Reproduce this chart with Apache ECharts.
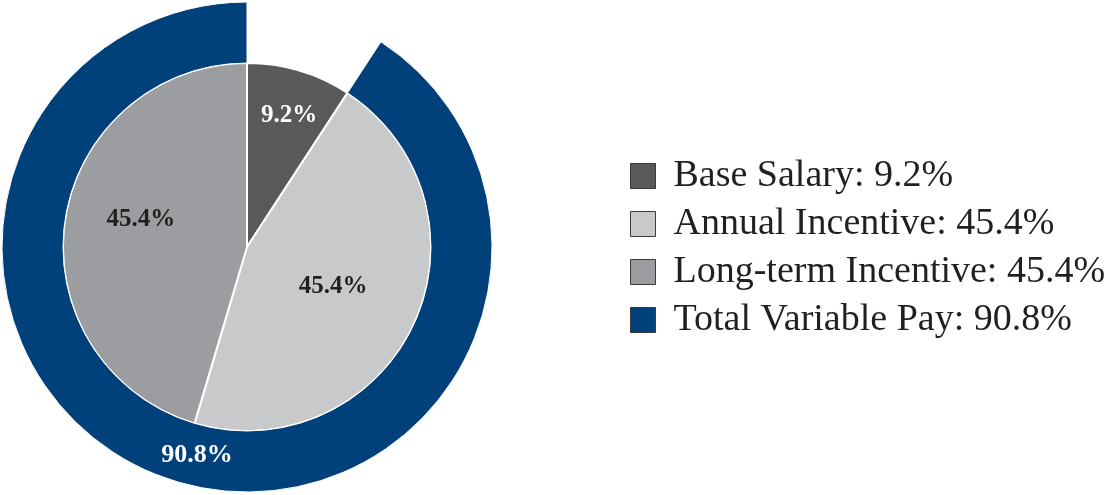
<!DOCTYPE html>
<html>
<head>
<meta charset="utf-8">
<script src="https://cdn.jsdelivr.net/npm/echarts@6/dist/echarts.min.js"></script>
<style>
html,body{margin:0;padding:0;background:#fff;}
#chart{width:1111px;height:495px;}
</style>
</head>
<body>
<div id="chart"></div>
<script>
// Data
var innerNames = ['Base Salary', 'Annual Incentive', 'Long-term Incentive'];
var innerValues = [9.2, 45.4, 45.4];
var outerName = 'Total Variable Pay';
var outerValue = 90.8;
var colors = {
  'Base Salary': '#59595b',
  'Annual Incentive': '#c8c9cb',
  'Long-term Incentive': '#9c9da0',
  'Total Variable Pay': '#00417b'
};

var allValues = {};
innerNames.forEach(function (n, i) { allValues[n] = innerValues[i]; });
allValues[outerName] = outerValue;

var labelColors = ['#ffffff', '#231f20', '#231f20'];
var innerData = innerNames.map(function (n, i) {
  return {
    name: n,
    value: innerValues[i],
    itemStyle: { color: colors[n] },
    label: { color: labelColors[i] }
  };
});
var outerData = [
  { name: '_gap', value: innerValues[0], itemStyle: { color: 'rgba(0,0,0,0)', borderWidth: 0 }, label: { show: false }, emphasis: { disabled: true } },
  { name: outerName, value: outerValue, itemStyle: { color: colors[outerName] }, label: { color: '#ffffff' } }
];

var fontSerif = '"Liberation Serif", "Times New Roman", serif';
var chart = echarts.init(document.getElementById('chart'), null, { renderer: 'canvas' });
chart.setOption({
  animation: false,
  backgroundColor: '#ffffff',
  legend: {
    orient: 'vertical',
    left: 625,
    top: 152,
    itemWidth: 25,
    itemHeight: 25,
    itemGap: 10,
    icon: 'rect',
    selectedMode: false,
    data: innerNames.concat([outerName]),
    itemStyle: { borderColor: '#3a3a3a', borderWidth: 1 },
    formatter: function (name) { return name + ': ' + allValues[name].toFixed(1) + '%'; },
    textStyle: { fontFamily: fontSerif, fontSize: 38, color: '#231f20', lineHeight: 36, padding: [0, 0, 0, 13] }
  },
  series: [
    {
      type: 'pie',
      center: [247, 247],
      radius: [0, 184],
      startAngle: 90,
      clockwise: true,
      silent: true,
      itemStyle: { borderColor: '#ffffff', borderWidth: 2 },
      label: {
        show: true,
        position: 'inside',
        fontFamily: fontSerif,
        fontWeight: 'bold',
        fontSize: 25,
        formatter: function (p) { return p.value.toFixed(1) + '%'; }
      },
      labelLayout: function (p) {
        if (p.dataIndex === 0) return { dx: 15, dy: -40 };
        if (p.dataIndex === 2) return { dx: -12, dy: -14 };
        return {};
      },
      labelLine: { show: false },
      data: innerData
    },
    {
      type: 'pie',
      center: [247, 247],
      radius: [184, 245],
      startAngle: 90,
      clockwise: true,
      silent: true,
      itemStyle: { borderColor: '#ffffff', borderWidth: 1 },
      label: {
        show: true,
        position: 'inside',
        fontFamily: fontSerif,
        fontWeight: 'bold',
        fontSize: 26,
        formatter: function (p) { return p.value.toFixed(1) + '%'; }
      },
      labelLayout: function () { return { dx: 12, dy: 0 }; },
      labelLine: { show: false },
      data: outerData
    }
  ]
});
</script>
</body>
</html>
